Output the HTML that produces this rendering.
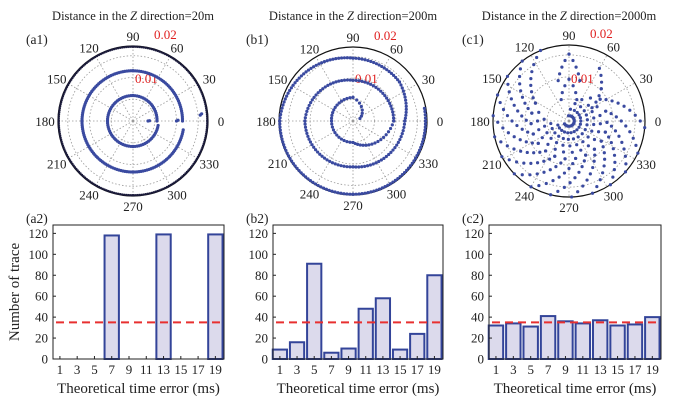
<!DOCTYPE html>
<html><head><meta charset="utf-8"><style>
html,body{margin:0;padding:0;background:#fff}
svg{display:block}
text{font-family:"Liberation Serif","Times New Roman",serif}
</style></head><body>
<svg id="fig" width="690" height="402" viewBox="0 0 690 402" font-family="Liberation Serif, serif"></svg>
<script>
// ---- bar chart data ----
const categories = [1,3,5,7,9,11,13,15,17,19];
const seriesA2 = [0,0,0,118,0,0,119,0,0,119];
const seriesB2 = [9,16,91,6,10,48,58,9,24,80];
const seriesC2 = [32,34,31,41,36,34,37,32,33,40];
const threshold = [35,35,35];
const yTicks = [0,20,40,60,80,100,120];
const xTickLabels = ["1","3","5","7","9","11","13","15","17","19"];
const titles = ["20","200","2000"];
const angleLabels = [0,30,60,90,120,150,180,210,240,270,300,330];
// polar arms: [angleDeg, radiusFraction] control points
const armsA1 = [
 [[0,0.32],[90,0.34],[180,0.34],[270,0.34],[350,0.34]],
 [[0,0.66],[90,0.67],[180,0.68],[270,0.68],[350,0.68]],
 [[0,0.99],[90,0.99],[180,0.99],[270,0.99],[360,0.99]],
 [[0,0.2],[1,0.22]],[[0,0.58],[1,0.6]],[[5,0.9],[6,0.92]]
];
const armsB1 = [[[20,0.1],[90,0.32],[180,0.29],[270,0.29],[360,0.55],[450,0.55],[540,0.65],[630,0.62],[720,0.7],[760,0.82],[810,0.85],[900,0.99],[990,0.99],[1080,0.98],[1090,0.98]]];
const armEnds = [355,335,318,303,288,272,256,240,224,208,192,176,160,144,128,112];
const loopsC1 = [[[70,0.3],[90,0.55],[110,0.3]],[[75,0.55],[90,0.88],[105,0.55]],[[30,0.35],[45,0.6],[60,0.8]]];
const svg = document.getElementById('fig');
const NS='http://www.w3.org/2000/svg';
function mk(tag,attrs,parent){const e=document.createElementNS(NS,tag);for(const k in attrs)e.setAttribute(k,attrs[k]);(parent||svg).appendChild(e);return e;}
function txt(x,y,s,attrs,parent){const t=mk('text',Object.assign({x:x,y:y,'font-size':12.5,fill:'#222','font-family':'Liberation Serif, serif'},attrs||{}),parent);t.textContent=s;return t;}

const armsC1 = armEnds.map(e=>[[e+100,0.07],[e+40,0.5],[e,1]]).concat(loopsC1);

const polars=[{cx:133,cy:121,R:75,arms:armsA1,label:'(a1)',step:2.6,dark:true},
              {cx:353,cy:121,R:74,arms:armsB1,label:'(b1)',step:3.8,dark:false},
              {cx:569,cy:121,R:76,arms:armsC1,label:'(c1)',step:7,dark:false}];
const bars=[{x0:53,x1:224,data:seriesA2,label:'(a2)'},{x0:273,x1:443,data:seriesB2,label:'(b2)'},{x0:489,x1:661,data:seriesC2,label:'(c2)'}];

polars.forEach((p,i)=>{
  const g=mk('g',{});
  
  
  const tt=txt(p.cx,20,'',{'text-anchor':'middle','font-size':12.5},g);
  
  
  tt.innerHTML='Distance in the <tspan font-style="italic">Z</tspan> direction=' + titles[i] + 'm';
  const pl=txt(p.cx-107,44,p.label,{'font-size':13.5},g);
  
  
  [0.29,0.58,0.87].forEach(f=>mk('circle',{cx:p.cx,cy:p.cy,r:p.R*f,fill:'none',stroke:'#999','stroke-width':0.8,'stroke-dasharray':'1.5 2'},g));
  angleLabels.forEach(a=>{
    const rad=a*Math.PI/180;
    mk('line',{x1:p.cx,y1:p.cy,x2:p.cx+p.R*Math.cos(rad),y2:p.cy-p.R*Math.sin(rad),stroke:'#999','stroke-width':0.8,'stroke-dasharray':'1.5 2'},g);
    const lx=p.cx+(p.R+13)*Math.cos(rad), ly=p.cy-(p.R+10)*Math.sin(rad)+5;
    const t=txt(lx,ly,String(a),{'text-anchor':'middle','font-size':13},g);
    
    
  });
  mk('circle',{cx:p.cx,cy:p.cy,r:p.R,fill:'none',stroke:'#111','stroke-width':1.2},g);
  const r1=txt(p.cx+21,p.cy-p.R-7,'0.02',{fill:'#e02020','font-size':13},g);
  
  
  const r2=txt(p.cx+2,p.cy-38,'0.01',{fill:'#e02020','font-size':13},g);
  
  
  p.arms.forEach(arm=>{
    for(let k=0;k<arm.length-1;k++){
      const [a0,f0]=arm[k],[a1,f1]=arm[k+1];
      const x0=p.cx+p.R*f0*Math.cos(a0*Math.PI/180),y0=p.cy-p.R*f0*Math.sin(a0*Math.PI/180);
      const x1=p.cx+p.R*f1*Math.cos(a1*Math.PI/180),y1=p.cy-p.R*f1*Math.sin(a1*Math.PI/180);
      const len=Math.abs(a1-a0)*Math.PI/180*p.R*(f0+f1)/2*0.8+Math.hypot(x1-x0,y1-y0)*0.5;
      const n=Math.max(1,Math.round(len/p.step));
      for(let j=0;j<=n;j++){
        const t=j/n,a=(a0+(a1-a0)*t)*Math.PI/180,f=f0+(f1-f0)*t;
        const dark=p.dark&&f>0.95;
        const d=mk('circle',{cx:p.cx+p.R*f*Math.cos(a),cy:p.cy-p.R*f*Math.sin(a),r:dark?1.2:1.6,fill:dark?'#1a1a3a':'#3a4aa0'},g);
        
        
      }
    }
  });
});

const Y0=359,YT=225,YMAX=128,XMIN=0.2,XMAX=20;
bars.forEach((b,i)=>{
  const g=mk('g',{});
  
  
  const xs=v=>b.x0+(v-XMIN)/(XMAX-XMIN)*(b.x1-b.x0);
  const ys=v=>Y0-v/YMAX*(Y0-YT);
  const pl=txt(b.x0-27,223,b.label,{'font-size':13.5},g);
  
  
  b.data.forEach((v,k)=>{
    if(v<=0)return;
    const c=categories[k];
    const r=mk('rect',{x:xs(c-0.83),y:ys(v),width:xs(c+0.83)-xs(c-0.83),height:Y0-ys(v),fill:'#dcdaec',stroke:'#334499','stroke-width':2},g);
    
    
  });
  const dl=mk('line',{x1:xs(XMIN)+3,x2:xs(XMAX)-2,y1:ys(threshold[i]),y2:ys(threshold[i]),stroke:'#e83030','stroke-width':2,'stroke-dasharray':'8 5'},g);
  
  
  const ax=mk('rect',{x:b.x0,y:YT,width:b.x1-b.x0,height:Y0-YT,fill:'none',stroke:'#222','stroke-width':1},g);
  
  
  yTicks.forEach(v=>{
    mk('line',{x1:b.x0,x2:b.x0+3,y1:ys(v),y2:ys(v),stroke:'#222'},g);
    const t=txt(b.x0-5,ys(v)+4.5,String(v),{'text-anchor':'end','font-size':13},g);
    
    
  });
  categories.forEach((c,k)=>{
    mk('line',{x1:xs(c),x2:xs(c),y1:Y0,y2:Y0-3,stroke:'#222'},g);
    const t=txt(xs(c),Y0+15,xTickLabels[k],{'text-anchor':'middle','font-size':13},g);
    
    
  });
  const xt=txt((b.x0+b.x1)/2,393,'Theoretical time error (ms)',{'text-anchor':'middle','font-size':15},g);
  
  
});
const yt=txt(0,0,'Number of trace',{'text-anchor':'middle','font-size':15,transform:'translate(19,292) rotate(-90)'});


</script>
</body></html>
